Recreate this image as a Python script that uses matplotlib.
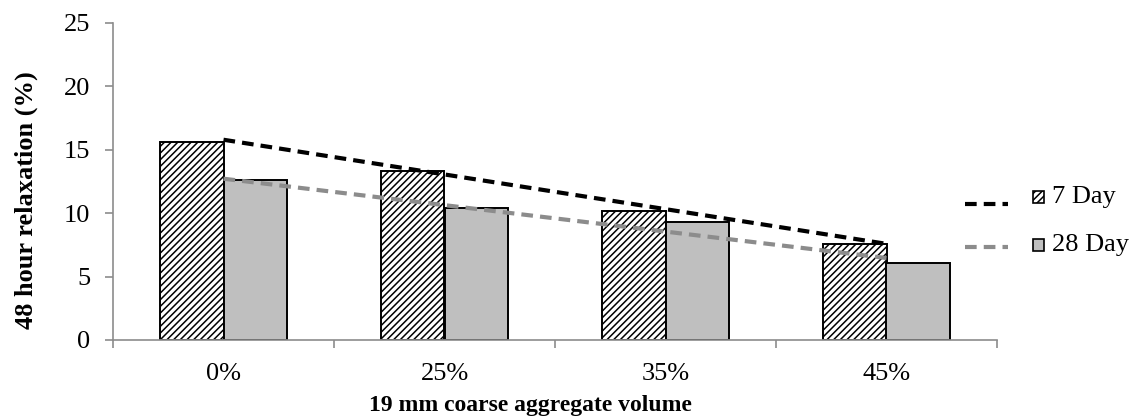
import numpy as np
import matplotlib
matplotlib.use("Agg")
import matplotlib.pyplot as plt
from matplotlib.lines import Line2D
from matplotlib.patches import Rectangle

categories = ["0%", "25%", "35%", "45%"]
series_names = ["7 Day", "28 Day"]
day7 = [15.65, 13.34, 10.18, 7.58]
day28 = [12.63, 10.40, 9.29, 6.05]
y_ticks = [0, 5, 10, 15, 20, 25]

plt.rcParams["font.family"] = ["Liberation Serif", "DejaVu Serif"]
plt.rcParams["hatch.linewidth"] = 1.1

W, H = 1134, 419
fig = plt.figure(figsize=(W / 100, H / 100), dpi=100)
ax = fig.add_axes([113 / W, 1 - 340 / H, (997 - 113) / W, (340 - 23) / H])

x = np.arange(len(categories))
bw = 0.287
gray = "#bfbfbf"
ax.bar(x - bw / 2, day7, width=bw, facecolor="white", edgecolor="black",
       linewidth=1.4, hatch="/////", zorder=2)
ax.bar(x + bw / 2, day28, width=bw, facecolor=gray, edgecolor="black",
       linewidth=1.4, zorder=2)

# linear trendlines through the category centres
xf = x + 1
for vals, col in ((day7, "black"), (day28, "#8c8c8c")):
    m, b = np.polyfit(xf, vals, 1)
    ax.plot(x, m * xf + b, color=col, linestyle=(0, (2.8, 1.7)),
            linewidth=3, zorder=3)

ax.set_xlim(-0.5, len(categories) - 0.5)
ax.set_ylim(0, 25)
ax.set_yticks(y_ticks)
ax.set_xticks(np.arange(len(categories) + 1) - 0.5)
ax.set_xticklabels([])
ax.set_xticks(x, minor=True)
ax.set_xticklabels(categories, minor=True)
ax.tick_params(axis="x", which="minor", length=0, pad=16.5, labelsize=19)
ax.tick_params(axis="x", which="major", length=5.5, width=1.2,
               color="#8c8c8c", direction="out")
ax.tick_params(axis="y", length=5.5, width=1.2, color="#8c8c8c", labelsize=19,
               pad=11)
for s in ("top", "right"):
    ax.spines[s].set_visible(False)
for s in ("left", "bottom"):
    ax.spines[s].set_color("#8c8c8c")
    ax.spines[s].set_linewidth(1.2)

ax.set_ylabel("48 hour relaxation (%)", fontsize=19, fontweight="bold")
ax.yaxis.set_label_coords((38 - 113) / (997 - 113), (340 - 200) / (340 - 23))
fig.text(530 / W, 1 - 405 / H, "19 mm coarse aggregate volume", fontsize=17,
         fontweight="bold", ha="center", va="center")

# legend: trendline sample, patch marker, label
rows = [(204, 197, "black", dict(facecolor="white", hatch="/////")),
        (247, 245, "#8c8c8c", dict(facecolor=gray))]
for (ly, py, col, pk), name in zip(rows, series_names):
    fig.add_artist(Line2D([965 / W, 1008 / W], [1 - ly / H, 1 - ly / H],
                          color=col, linestyle=(0, (2.8, 1.7)), linewidth=3,
                          transform=fig.transFigure))
    fig.add_artist(Rectangle((1033 / W, 1 - (py + 6) / H), 11 / W, 12 / H,
                             edgecolor="black", linewidth=1.2,
                             transform=fig.transFigure, **pk))
    fig.text(1052 / W, 1 - py / H, name, fontsize=19, ha="left", va="center")

fig.savefig("out.png", dpi=100)
